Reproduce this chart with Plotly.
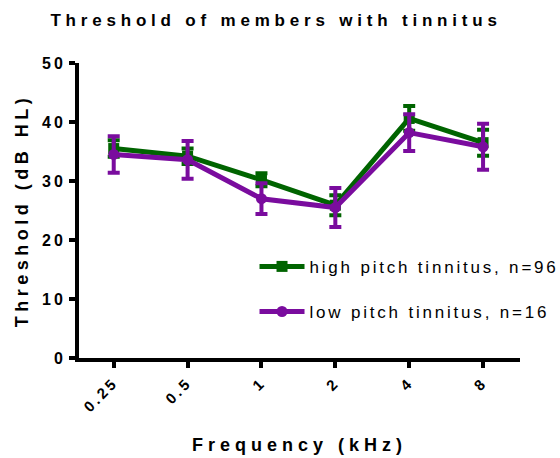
import plotly.graph_objects as go

# Audiometric thresholds by frequency for the two tinnitus groups
freqs = ["0.25", "0.5", "1", "2", "4", "8"]
high_mean = [35.5, 34.2, 30.2, 25.9, 40.6, 36.5]
high_err = [1.4, 1.3, 1.1, 1.7, 2.1, 2.2]
low_mean = [34.5, 33.6, 27.0, 25.5, 38.2, 35.8]
low_err = [3.1, 3.2, 2.6, 3.3, 3.1, 3.9]

GREEN = "#006400"
PURPLE = "#7A0C9E"
FONT = "Liberation Sans, Arial, sans-serif"

fig = go.Figure()
fig.add_trace(go.Scatter(
    x=freqs, y=high_mean, name="high pitch tinnitus, n=96", legendgroup="a",
    mode="lines+markers",
    line=dict(color=GREEN, width=5),
    marker=dict(symbol="square", size=11, color=GREEN),
    error_y=dict(type="data", array=high_err, color=GREEN, thickness=4, width=6),
))
fig.add_trace(go.Scatter(
    x=freqs, y=low_mean, name="low pitch tinnitus, n=16", legendgroup="b",
    mode="lines+markers",
    line=dict(color=PURPLE, width=5),
    marker=dict(symbol="circle", size=11, color=PURPLE),
    error_y=dict(type="data", array=low_err, color=PURPLE, thickness=4, width=6),
))

fig.update_layout(
    width=560, height=458,
    margin=dict(l=79, r=40, t=63, b=100),
    paper_bgcolor="white", plot_bgcolor="white",
    font=dict(family=FONT, color="black"),
    title=dict(text="<b>Threshold of members with tinnitus</b>",
               x=0.493, xref="container", xanchor="center", y=0.956, yanchor="middle",
               font=dict(size=17, color="black")),
    showlegend=True,
    legend=dict(x=0.398, y=0.37, xanchor="left", yanchor="top",
                font=dict(size=17, color="black"), tracegroupgap=20,
                traceorder="grouped", bgcolor="rgba(0,0,0,0)", itemwidth=45),
)

fig.update_xaxes(
    type="category", range=[-0.47, 5.5], automargin=False,
    showline=True, linewidth=4, linecolor="black",
    ticks="outside", ticklen=6, tickwidth=4, tickcolor="black",
    tickangle=-45, showgrid=False, zeroline=False,
    tickfont=dict(size=15, family=FONT, weight="bold"),
    title=dict(text="<b>Frequency (kHz)</b>", font=dict(size=18), standoff=34),
)
fig.update_yaxes(
    range=[0, 50], tickvals=[0, 10, 20, 30, 40, 50], automargin=False,
    showline=True, linewidth=4, linecolor="black",
    ticks="outside", ticklen=6, tickwidth=4, tickcolor="black",
    showgrid=False, zeroline=False,
    tickfont=dict(size=16, family=FONT, weight="bold"),
    title=dict(text="<b>Threshold (dB HL)</b>", font=dict(size=18), standoff=16),
)

spacing_js = """
var gd = document.getElementById('{plot_id}');
function spaceText() {
  var rules = [['.gtitle', '4.8px'], ['.xtitle', '5px'], ['.ytitle', '4.5px'],
               ['.legendtext', '2.8px'], ['.xtick text', '3px'], ['.ytick text', '3px']];
  rules.forEach(function (r) {
    gd.querySelectorAll(r[0]).forEach(function (el) { el.style.letterSpacing = r[1]; });
  });
  gd.querySelectorAll('.legend [clip-path]').forEach(function (el) {
    el.removeAttribute('clip-path');
  });
}
spaceText();
gd.on('plotly_afterplot', spaceText);
"""

fig.write_html("out.html", post_script=spacing_js)
